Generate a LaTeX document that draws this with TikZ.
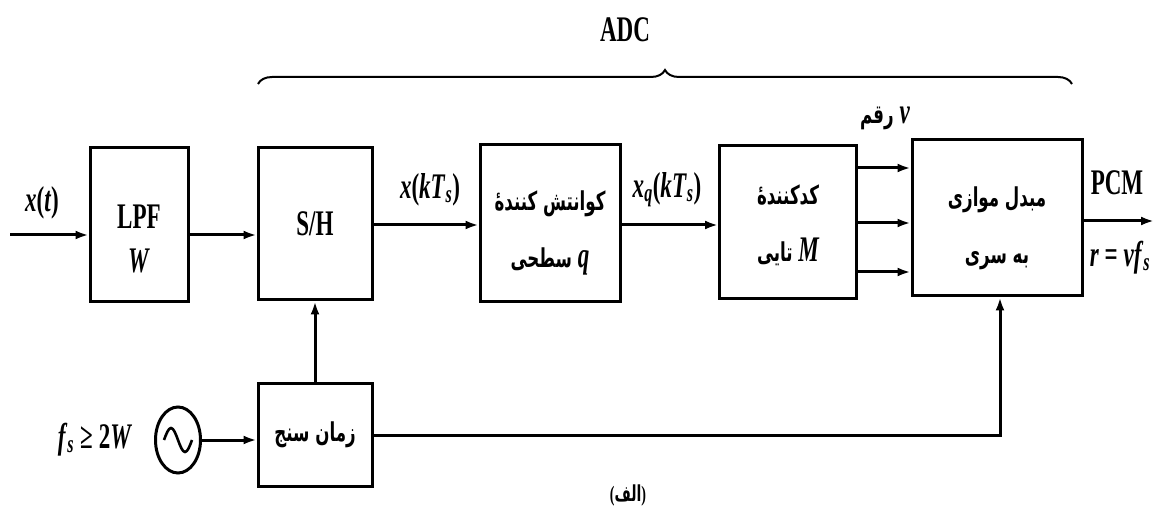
\documentclass[tikz,border=0pt]{standalone}
\usepackage{fontspec}
\usetikzlibrary{arrows.meta,decorations.pathreplacing,shapes.geometric}
\setmainfont[FakeStretch=0.64]{Liberation Serif}
\newfontfamily\fa[Script=Arabic,FakeStretch=0.64]{DejaVu Sans}
\TeXXeTstate=1
\newcommand\mi[1]{\textit{#1}}
\newcommand\latsym[1]{{\fontsize{36}{44}\selectfont\rmfamily\bfseries\itshape #1}}
\begin{document}
\begin{tikzpicture}[x=1pt,y=-1pt,
  blk/.style={draw, line width=3pt, inner sep=0pt},
  arr/.style={line width=3pt, -{Latex[length=13pt,width=9pt]}},
  lat/.style={font=\fontsize{36}{44}\selectfont\bfseries},
  per/.style={font=\fontsize{26}{57}\selectfont\fa\bfseries, align=center}]
\useasboundingbox (0,0) rectangle (1170,510);

% processing blocks (box, then its text)
\node[blk, minimum width=98pt, minimum height=154pt] (lpf) at (139,225) {};
\node[lat, align=center, yshift=-14pt] (lpftxt) at (lpf.center) {LPF\\\mi{W}};
\node[blk, lat, minimum width=114pt, minimum height=152pt] (sh) at (315,224) {\raisebox{-8pt}{S/H}};
\node[blk, minimum width=140pt, minimum height=157pt] (quant) at (550,223) {};
\node[per, yshift=-10pt] (quanttxt) at (quant.center)
  {\beginR کوانتش کنندهٔ\endR\\\beginR\latsym{q} سطحی\endR};
\node[blk, minimum width=137pt, minimum height=153pt] (enc) at (788,222) {};
\node[per, yshift=-3pt] (enctxt) at (enc.center)
  {\beginR کدکنندهٔ\endR\\\beginR\latsym{M} تایی\endR};
\node[blk, minimum width=170pt, minimum height=156pt] (ps) at (997,218) {};
\node[per, yshift=-10pt] (pstxt) at (ps.center)
  {\beginR مبدل موازی\endR\\\beginR به سری\endR};
\node[blk, per, minimum width=114pt, minimum height=103pt] (timer) at (315,435)
  {\beginR زمان سنج\endR};

% sine source
\node[draw, ellipse, line width=3pt, minimum width=45pt, minimum height=66pt, inner sep=0pt] (osc) at (178,440) {};
\draw[line width=2.6pt] ([xshift=-14pt]osc.center) sin ++(7,-12) cos ++(7,12) sin ++(7,12) cos ++(7,-12);

% signal path
\coordinate (in) at (10,235);
\draw[arr] (in) -- (in -| lpf.west);
\draw[arr] (lpf.east |- in) -- (sh.west |- in);
\draw[arr] (sh.east |- 0,225) -- (quant.west |- 0,225);
\draw[arr] (quant.east |- 0,225) -- (enc.west |- 0,225);
\foreach \yy in {168,223,272}
  \draw[arr] (enc.east |- 0,\yy) -- (ps.west |- 0,\yy);
\coordinate (out) at (1154,221);
\draw[arr] (ps.east |- out) -- (out);

% clock path
\draw[arr] (osc.east) -- (osc.east -| timer.west);
\draw[arr] (timer.north) -- (sh.south);
\draw[arr] (timer.east) -| (ps.south -| 1000,0);

% brace over the converter
\draw[line width=2pt, decorate, decoration={brace, amplitude=14pt}] (258,84) -- (1072,84);

% labels
\node[lat] (adc) at (625,30) {ADC};
\node[lat] (lx) at (42,203) {\mi{x}(\mi{t})};
\node[lat] (lxk) at (430,190) {\mi{x}(\mi{kT}\textsubscript{\mi{s}})};
\node[lat] (lxq) at (667,190) {\mi{x}\textsubscript{\mi{q}}(\mi{kT}\textsubscript{\mi{s}})};
\node[lat] (lnu) at (885,118) {\beginR\mi{ν} {\fontsize{26}{30}\selectfont\fa\bfseries رقم}\endR};
\node[lat] (lpcm) at (1117,183) {PCM};
\node[lat] (lr) at (1120,258) {\mi{r} = \mi{νf}\textsubscript{\mi{s}}};
\node[lat] (lfs) at (95,440) {\mi{f}\textsubscript{\mi{s}}\,≥\,2\mi{W}};
\node[font=\fontsize{22}{24}\selectfont\rmfamily\bfseries] (cap) at (628,495) {(\fa\bfseries الف\rmfamily)};
\end{tikzpicture}
\end{document}
